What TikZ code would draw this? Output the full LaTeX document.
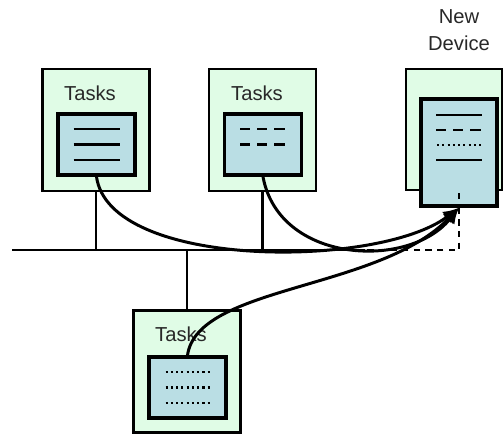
\documentclass[tikz,border=0pt]{standalone}
\usepackage{fontspec}
\setmainfont{Liberation Sans}
\usetikzlibrary{arrows.meta}

\definecolor{hostgreen}{RGB}{224,252,230}
\definecolor{taskblue}{RGB}{186,222,228}
\definecolor{labelgray}{RGB}{40,40,40}

\tikzset{
	host/.style={draw, fill=hostgreen, line width=1.4pt, inner sep=0pt,
		minimum width=2.14cm, minimum height=2.44cm},
	tasklist/.style={draw, fill=taskblue, line width=2pt, inner sep=0pt,
		minimum width=1.54cm, minimum height=1.22cm},
	caption/.style={text=labelgray, font=\fontsize{11.5}{15.3}\selectfont, align=center},
	entry/.style={line width=1.4pt},
	dashentry/.style={line width=1.5pt, dash pattern=on 5.8pt off 4pt},
	dotentry/.style={line width=1.6pt, dash pattern=on 1.2pt off 1.8pt},
	flow/.style={line width=1.7pt, -{Latex[length=9pt,width=8pt]}}
}

\begin{document}
\begin{tikzpicture}[x=0.02cm, y=-0.02cm]
\useasboundingbox (0,0) rectangle (504,434);

% bus
\coordinate (busL) at (12,250);
\coordinate (busR) at (365,250);

% hosts with their task lists
\node[host] (h1) at (96,130) {};
\node[tasklist] (t1) at (96.5,144.5) {};
\node[caption] (c1) at (90,93) {Tasks};

\node[host] (h2) at (262.5,130) {};
\node[tasklist] (t2) at (263,144.5) {};
\node[caption] (c2) at (257,93) {Tasks};

\node[host] (h3) at (187,371.5) {};
\node[tasklist] (t3) at (187.5,387.5) {};
\node[caption] (c3) at (181,334) {Tasks};

\node[host, minimum width=1.92cm, minimum height=2.42cm] (hn) at (454,129.5) {};
\node[tasklist, minimum width=1.52cm, minimum height=2.14cm] (tn) at (459,152.5) {};
\node[caption] (cn) at (459,30) {New\\Device};

% entries inside the lists
\foreach \dy in {-15.5,0,15.5}
	\draw[entry] ([shift={(-23,\dy)}]t1.center) -- ++(46,0);
\foreach \dy in {-15.5,0}
	\draw[dashentry] ([shift={(-23,\dy)}]t2.center) -- ++(46,0);
\foreach \dy in {-15.5,0,15.5}
	\draw[dotentry] ([shift={(-22,\dy)}]t3.center) -- ++(46,0);
\draw[entry] ([shift={(-23,-37.5)}]tn.center) -- ++(46,0);
\draw[dashentry] ([shift={(-23,-22.5)}]tn.center) -- ++(46,0);
\draw[dotentry] ([shift={(-22,-7.5)}]tn.center) -- ++(46,0);
\draw[entry] ([shift={(-23,7.5)}]tn.center) -- ++(46,0);
\draw[entry] ([yshift=0.18cm]tn.south) -- ++(0,-6);

% bus and drops
\draw[line width=1.4pt] (busL) -- (busR);
\draw[line width=1.2pt] (h1.south) -- (h1.south |- busL);
\draw[line width=1.2pt] (h2.south) -- (h2.south |- busL);
\draw[line width=1.2pt] (h3.north) -- (h3.north |- busL);
\draw[line width=1.4pt, dash pattern=on 3.6pt off 3pt] (tn.south) |- (busR);

% task moves
\draw[flow] (t1.south) .. controls +(13,93) and +(-80,61) .. (tn.south);
\draw[flow] (t2.south) .. controls +(16,87) and +(-50,62) .. (tn.south);
\draw[flow] (t3.north) .. controls +(10,-70) and +(-80,83) .. (tn.south);
\end{tikzpicture}
\end{document}
